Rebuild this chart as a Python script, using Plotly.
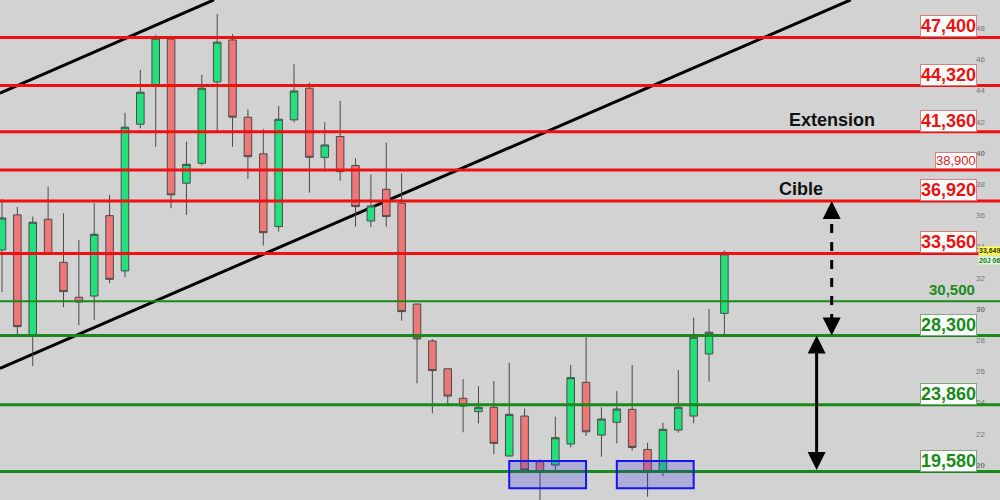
import plotly.graph_objects as go

# ---------------- data ----------------
opens = [33.78, 36.03, 28.27, 35.75, 32.99, 30.75, 30.83, 35.98, 32.44, 41.84,
         44.36, 47.29, 38.06, 39.34, 44.55, 47.24, 42.29, 39.94, 35.28, 42.12,
         44.15, 39.72, 41.05, 39.19, 35.64, 37.67, 36.78, 30.32, 27.95, 26.17,
         24.28, 23.42, 23.70, 20.58, 23.14, 20.21, 20.00, 21.35, 25.30, 21.92,
         22.74, 23.57, 21.00, 19.57, 22.24, 23.14, 27.12, 29.72]
highs = [37.05, 36.54, 35.92, 37.84, 36.13, 34.42, 36.78, 37.31, 42.58, 45.32,
         47.56, 47.50, 40.72, 45.00, 48.91, 47.61, 42.80, 41.54, 43.01, 45.69,
         44.51, 41.97, 43.33, 39.66, 38.63, 40.66, 38.70, 30.32, 28.06, 26.17,
         25.51, 25.06, 25.38, 26.56, 23.63, 20.37, 23.10, 26.41, 28.19, 23.70,
         24.74, 26.41, 21.43, 22.71, 26.09, 29.44, 30.00, 33.74]
lows = [31.09, 28.33, 26.35, 33.50, 30.11, 28.97, 29.29, 31.65, 32.03, 41.58,
        40.40, 36.46, 36.03, 39.19, 41.37, 40.40, 38.33, 34.06, 34.96, 41.94,
        37.46, 38.80, 38.21, 35.28, 35.24, 35.28, 29.25, 25.24, 23.31, 23.91,
        22.10, 22.67, 20.71, 20.58, 19.68, 17.60, 19.57, 21.13, 21.86, 20.53,
        21.39, 20.92, 17.97, 19.29, 22.07, 22.67, 25.34, 28.33]
closes = [35.83, 28.87, 35.56, 33.51, 31.11, 30.45, 34.79, 31.90, 41.65, 43.89,
          47.35, 37.31, 39.27, 44.15, 47.10, 42.29, 39.76, 34.89, 42.16, 43.97,
          39.72, 40.51, 38.80, 36.56, 36.60, 35.92, 29.83, 28.08, 26.05, 24.42,
          23.78, 23.70, 21.39, 23.25, 19.68, 19.57, 21.75, 25.60, 22.13, 22.95,
          23.59, 21.13, 19.57, 22.29, 23.70, 28.19, 28.51, 33.53]
bars = list(range(len(opens)))

resistance_levels = [47.40, 44.32, 41.36, 36.92, 33.56]
resistance_labels = ["47,400", "44,320", "41,360", "36,920", "33,560"]
minor_resistance = 38.90
minor_resistance_label = "38,900"
support_levels = [28.30, 23.86, 19.58]
support_labels = ["28,300", "23,860", "19,580"]
minor_support = 30.50
minor_support_label = "30,500"

# trend channel lines: (bar index, price) endpoints
upper_trend_x = [-0.13, 13.79]
upper_trend_y = [43.83, 49.81]
lower_trend_x = [-0.13, 55.22]
lower_trend_y = [26.20, 49.81]

# double-bottom zones: (start bar, end bar, low price, high price)
zone1 = [33.0, 38.0, 18.51, 20.26]
zone2 = [40.0, 45.0, 18.51, 20.26]

# arrow positions (bar index)
target_arrow_x = 53.98
range_arrow_x = 53.0

last_price = "33,649"
last_price_value = 33.649
last_date = "20J 06"

tick_vals = [18, 20, 22, 24, 26, 28, 30, 32, 34, 36, 38, 40, 42, 44, 46, 48]

# ---------------- figure ----------------
RED = "#ee1111"
GREEN = "#1a8a1a"

fig = go.Figure()
fig.add_trace(go.Candlestick(
    x=bars, open=opens, high=highs, low=lows, close=closes,
    increasing=dict(fillcolor="#22e07c", line=dict(color="#4a4a4a", width=1)),
    decreasing=dict(fillcolor="#ee7777", line=dict(color="#4a4a4a", width=1)),
    showlegend=False, hoverinfo="skip"))

shapes = []
shapes.append(dict(type="line", xref="x", yref="y", x0=upper_trend_x[0], y0=upper_trend_y[0],
                   x1=upper_trend_x[1], y1=upper_trend_y[1], line=dict(color="black", width=3), layer="below"))
shapes.append(dict(type="line", xref="x", yref="y", x0=lower_trend_x[0], y0=lower_trend_y[0],
                   x1=lower_trend_x[1], y1=lower_trend_y[1], line=dict(color="black", width=3), layer="below"))
for lv in resistance_levels + [minor_resistance]:
    shapes.append(dict(type="line", xref="paper", yref="y", x0=0, x1=1, y0=lv, y1=lv,
                       line=dict(color=RED, width=3), layer="above"))
for lv in support_levels:
    shapes.append(dict(type="line", xref="paper", yref="y", x0=0, x1=1, y0=lv, y1=lv,
                       line=dict(color=GREEN, width=3), layer="above"))
shapes.append(dict(type="line", xref="paper", yref="y", x0=0, x1=1, y0=minor_support, y1=minor_support,
                   line=dict(color=GREEN, width=2), layer="above"))
for z in (zone1, zone2):
    shapes.append(dict(type="rect", xref="x", yref="y", x0=z[0], x1=z[1], y0=z[2], y1=z[3],
                       fillcolor="rgba(40,40,230,0.22)", line=dict(color="#1515ee", width=2), layer="above"))
shapes.append(dict(type="line", xref="x", yref="y", x0=target_arrow_x, x1=target_arrow_x,
                   y0=support_levels[0] + 0.8, y1=resistance_levels[3] - 0.8,
                   line=dict(color="black", width=3, dash="dash"), layer="above"))

annotations = []
for lv, txt in zip(resistance_levels, resistance_labels):
    annotations.append(dict(xref="paper", yref="y", x=0.977, y=lv, xanchor="right", yanchor="bottom",
                            text=f"<b>{txt}</b>", showarrow=False, bgcolor="white",
                            bordercolor="#d88080", borderwidth=1, borderpad=0,
                            font=dict(family="Liberation Sans", size=18, color=RED)))
annotations.append(dict(xref="paper", yref="y", x=0.977, y=minor_resistance, xanchor="right", yanchor="bottom",
                        text=minor_resistance_label, showarrow=False, bgcolor="white",
                        bordercolor="#d88080", borderwidth=1, borderpad=0, yshift=1,
                        font=dict(family="Liberation Sans", size=13, color="#dd2222")))
for lv, txt in zip(support_levels, support_labels):
    annotations.append(dict(xref="paper", yref="y", x=0.977, y=lv, xanchor="right", yanchor="bottom",
                            text=f"<b>{txt}</b>", showarrow=False, bgcolor="white",
                            bordercolor="#80a880", borderwidth=1, borderpad=0,
                            font=dict(family="Liberation Sans", size=18, color=GREEN)))
annotations.append(dict(xref="paper", yref="y", x=0.977, y=minor_support, xanchor="right", yanchor="bottom",
                        text=f"<b>{minor_support_label}</b>", showarrow=False, yshift=1,
                        font=dict(family="Liberation Sans", size=15, color=GREEN)))
annotations.append(dict(xref="paper", yref="y", x=0.8317, y=resistance_levels[2], xanchor="center", yanchor="bottom",
                        text="<b>Extension</b>", showarrow=False,
                        font=dict(family="Liberation Sans", size=18, color="#111111")))
annotations.append(dict(xref="paper", yref="y", x=0.801, y=resistance_levels[3], xanchor="center", yanchor="bottom",
                        text="<b>Cible</b>", showarrow=False,
                        font=dict(family="Liberation Sans", size=18, color="#111111")))
# dashed arrow heads
annotations.append(dict(xref="x", yref="y", x=target_arrow_x, y=resistance_levels[3], ax=0, ay=18,
                        text="", showarrow=True, arrowhead=2,
                        arrowsize=1.2, arrowwidth=3, arrowcolor="black", standoff=0))
annotations.append(dict(xref="x", yref="y", x=target_arrow_x, y=support_levels[0], ax=0, ay=-18,
                        text="", showarrow=True, arrowhead=2,
                        arrowsize=1.2, arrowwidth=3, arrowcolor="black", standoff=0))
# solid double arrow
annotations.append(dict(xref="x", yref="y", x=range_arrow_x, y=support_levels[0],
                        axref="x", ayref="y", ax=range_arrow_x, ay=support_levels[2],
                        text="", showarrow=True, arrowhead=2, startarrowhead=2, arrowside="end+start",
                        arrowsize=1.2, startarrowsize=1.2, arrowwidth=3, arrowcolor="black",
                        standoff=0, startstandoff=0))
# last price tags
annotations.append(dict(xref="paper", yref="y", x=0.978, y=last_price_value, xanchor="left", yanchor="bottom",
                        text="<b>" + last_price + "</b>", showarrow=False, bgcolor="#ffff55",
                        borderpad=0, yshift=-4, font=dict(family="Liberation Sans", size=7, color="#333300")))
annotations.append(dict(xref="paper", yref="y", x=0.978, y=last_price_value, xanchor="left", yanchor="top",
                        yshift=-4, text="<b>" + last_date + "</b>", showarrow=False, bgcolor="#d8ffd0",
                        borderpad=0, font=dict(family="Liberation Sans", size=7, color="#336633")))

tick_text = [f"<b>{v}</b>" if v % 10 == 0 else str(v) for v in tick_vals]

fig.update_layout(
    width=1000, height=500,
    margin=dict(l=0, r=0, t=0, b=0),
    paper_bgcolor="#d2d2d2", plot_bgcolor="#d2d2d2",
    shapes=shapes, annotations=annotations,
    xaxis=dict(range=[-0.13, 64.93], visible=False, rangeslider=dict(visible=False), fixedrange=True),
    yaxis=dict(range=[17.76, 49.8], side="right", tickvals=tick_vals, ticktext=tick_text,
               ticklabelposition="inside", ticks="", showgrid=False, zeroline=False,
               tickfont=dict(family="Liberation Sans", size=8, color="#777777"),
               ticklabelstandoff=12),
    showlegend=False,
)

fig.write_html("out.html", config={"displayModeBar": False},
               post_script="document.body.style.margin='0px';")
